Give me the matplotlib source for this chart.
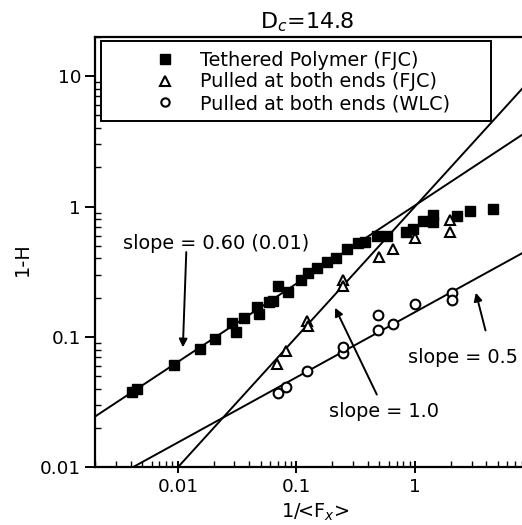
import matplotlib
matplotlib.use("Agg")
import matplotlib.pyplot as plt
import numpy as np
from matplotlib.patches import Rectangle
from matplotlib.lines import Line2D

plt.rcParams['font.family'] = ['DejaVu Sans']
plt.rcParams['mathtext.fontset'] = 'dejavusans'

# ---- data ----
teth_x = [0.00412, 0.00454, 0.00925, 0.0154, 0.0206, 0.0285, 0.0308, 0.0361,
          0.0469, 0.0484, 0.0588, 0.0635, 0.070, 0.0855, 0.110, 0.126, 0.148,
          0.180, 0.215, 0.265, 0.332, 0.379, 0.475, 0.585, 0.841, 0.97, 1.18,
          1.42, 1.42, 2.28, 2.92, 4.55]
teth_y = [0.0379, 0.0398, 0.0608, 0.0802, 0.0957, 0.127, 0.109, 0.139,
          0.170, 0.149, 0.186, 0.189, 0.245, 0.223, 0.275, 0.311, 0.341,
          0.376, 0.400, 0.476, 0.530, 0.536, 0.591, 0.591, 0.638, 0.678, 0.771,
          0.857, 0.76, 0.843, 0.925, 0.966]

fjc_x = [0.069, 0.0824, 0.1236, 0.126, 0.248, 0.248, 0.498, 0.656, 1.0, 1.98, 1.98]
fjc_y = [0.0616, 0.0775, 0.132, 0.121, 0.272, 0.245, 0.414, 0.473, 0.574, 0.794, 0.638]

wlc_x = [0.070, 0.0813, 0.123, 0.247, 0.247, 0.491, 0.491, 0.656, 1.0, 2.05, 2.05]
wlc_y = [0.0369, 0.0415, 0.0552, 0.0755, 0.084, 0.147, 0.114, 0.125, 0.178, 0.218, 0.191]

labels = ['Tethered Polymer (FJC)', 'Pulled at both ends (FJC)', 'Pulled at both ends (WLC)']

# fitted power laws y = A * x^slope
fit_slopes = [0.60, 1.0, 0.5]
fit_prefactors = [1.02, 1.0, 0.155]

xlim = (0.002, 8.0)
ylim = (0.01, 20.0)

W, H = 522, 525
fig = plt.figure(figsize=(W / 100, H / 100), dpi=100)
ax = fig.add_axes([95 / W, (H - 467.3) / H, (W - 95) / W, (467.3 - 37) / H])
ax.set_xscale('log')
ax.set_yscale('log')
ax.set_xlim(*xlim)
ax.set_ylim(*ylim)

xx = np.logspace(np.log10(xlim[0]), np.log10(xlim[1]), 200)
for s, a in zip(fit_slopes, fit_prefactors):
    ax.plot(xx, a * xx ** s, color='black', lw=1.4, zorder=2)

ax.plot(teth_x, teth_y, ls='none', marker='s', ms=7.0, mfc='black', mec='black', zorder=3)
ax.plot(fjc_x, fjc_y, ls='none', marker='^', ms=7.5, mfc='white', mec='black', mew=1.5, zorder=3)
ax.plot(wlc_x, wlc_y, ls='none', marker='o', ms=7.0, mfc='white', mec='black', mew=1.5, zorder=3)

fs = 13.9

# annotations
ax.text(0.0212, 0.524, 'slope = 0.60 (0.01)', fontsize=fs, ha='center', va='center')
ax.annotate('', xy=(0.011, 0.0792), xytext=(0.0118, 0.47),
            arrowprops=dict(arrowstyle='-|>', color='black', lw=1.4, mutation_scale=12))
ax.text(0.55, 0.0266, 'slope = 1.0', fontsize=fs, ha='center', va='center')
ax.annotate('', xy=(0.207, 0.175), xytext=(0.488, 0.0346),
            arrowprops=dict(arrowstyle='-|>', color='black', lw=1.4, mutation_scale=12))
ax.text(2.52, 0.070, 'slope = 0.5', fontsize=fs, ha='center', va='center')
ax.annotate('', xy=(3.22, 0.229), xytext=(3.99, 0.107),
            arrowprops=dict(arrowstyle='-|>', color='black', lw=1.4, mutation_scale=12))

# legend
handles = [
    Line2D([], [], ls='none', marker='s', ms=6.5, mfc='black', mec='black'),
    Line2D([], [], ls='none', marker='^', ms=7, mfc='white', mec='black', mew=1.5),
    Line2D([], [], ls='none', marker='o', ms=6, mfc='white', mec='black', mew=1.5),
]
leg = ax.legend(handles, labels, loc='upper left', frameon=False, fontsize=fs,
                bbox_to_anchor=(150 / W, (H - 45) / H), bbox_transform=fig.transFigure,
                borderaxespad=0, borderpad=0.3, handlelength=1.0, handletextpad=1.3,
                labelspacing=0.14)
ax.add_patch(Rectangle((101 / W, (H - 121) / H), 390 / W, 80 / H, transform=fig.transFigure,
                       fill=False, ec='black', lw=1.4, zorder=5))

# spines / ticks
ax.spines['right'].set_visible(False)
for sp in ['left', 'bottom', 'top']:
    ax.spines[sp].set_linewidth(1.6)
ax.tick_params(axis='both', which='major', direction='out', length=7, width=1.4,
               labelsize=13.3, pad=3)
ax.tick_params(axis='both', which='minor', direction='in', length=4, width=1.0)
ax.tick_params(axis='x', which='major', direction='inout', length=9)
ax.tick_params(top=False, right=False, which='both')
ax.set_xticks([0.01, 0.1, 1])
ax.set_xticklabels(['0.01', '0.1', '1'])
ax.set_yticks([0.01, 0.1, 1, 10])
ax.set_yticklabels(['0.01', '0.1', '1', '10'])

ax.set_xlabel('1/<F$_x$>', fontsize=fs, va='center')
ax.xaxis.set_label_coords((315 - 95) / (W - 95), -(512 - 467.3) / (467.3 - 37))
ax.set_ylabel('1-H', fontsize=fs, va='center')
ax.yaxis.set_label_coords(-(95 - 22) / (W - 95), (467.3 - 259) / (467.3 - 37))
fig.text(307 / W, (H - 22) / H, 'D$_c$=14.8', fontsize=16, ha='center', va='center')

fig.savefig('out.png', dpi=100)
